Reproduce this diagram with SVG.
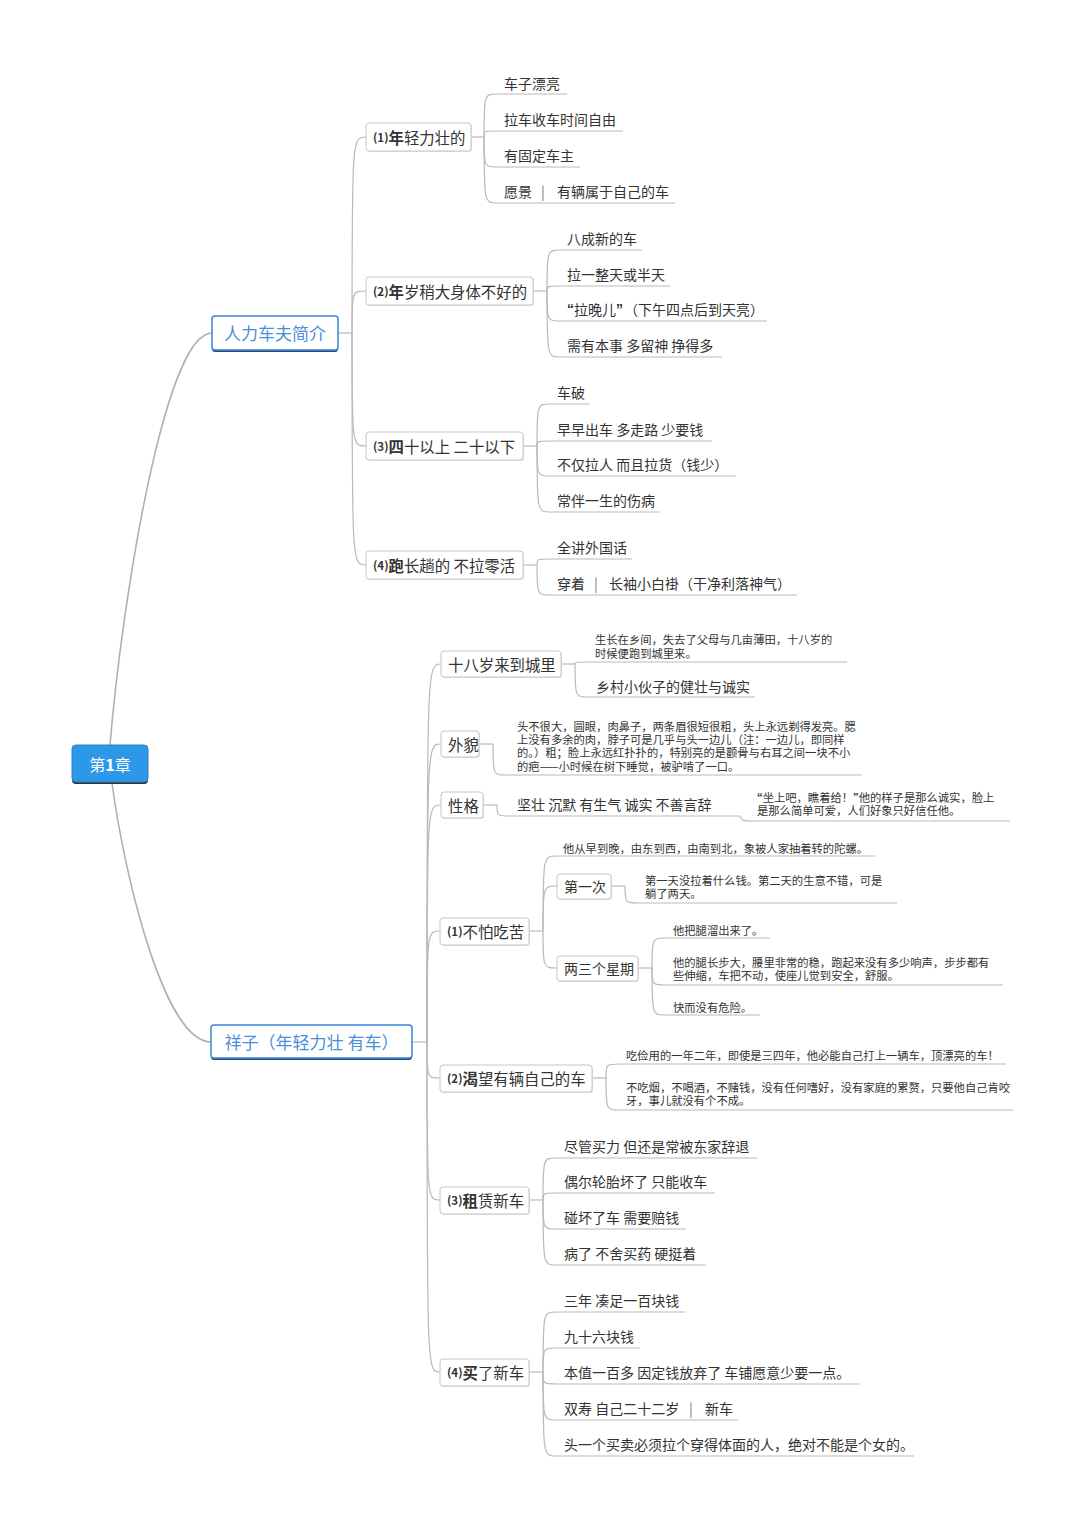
<svg xmlns="http://www.w3.org/2000/svg" width="1080" height="1520" viewBox="0 0 1080 1520">
<style>
text { font-family: "Noto Sans CJK SC", "Noto Sans", sans-serif; dominant-baseline: central; fill: #333; }
.ln { fill: none; stroke: #b9b9b9; stroke-width: 1.2; }
.mln { fill: none; stroke: #b0b0b0; stroke-width: 1.6; }
.box { fill: #fff; stroke: #c6c6c6; stroke-width: 1; }
.sh { fill: #e2e2e2; }
.mbox { fill: #fff; stroke: #3a84d8; stroke-width: 1.5; }
.msh { fill: #2c4a78; }
.t14 { font-size: 14px; }
.t15 { font-size: 15.4px; }
.ts { font-size: 11.3px; }
.num { font-size: 11.5px; font-weight: bold; }
.b { font-weight: bold; }
.sep { fill: #777; }
.q { font-family: "Liberation Sans", sans-serif; font-weight: bold; }
.mt { font-size: 17px; fill: #4a8fd9; text-anchor: middle; }
</style>

<g id="connectors">
  <path class="mln" d="M110 745 C122 600 165 333 212 333"/>
  <path class="mln" d="M112 783 C125 880 165 1042 211 1042"/>
  <path class="ln" d="M338 333 H352"/>
  <path class="ln" d="M352 333 C352 137 352 137 366 137"/>
  <path class="ln" d="M352 333 C352 291 352 291 366 291"/>
  <path class="ln" d="M352 333 C352 446 352 446 366 446"/>
  <path class="ln" d="M352 333 C352 565 352 565 366 565"/>
  <path class="ln" d="M471 137 H484"/>
  <path class="ln" d="M484 137 C484 94 484 94 498 94 H567"/>
  <path class="ln" d="M484 137 C484 131 484 131 498 131 H623"/>
  <path class="ln" d="M484 137 C484 167 484 167 498 167 H580"/>
  <path class="ln" d="M484 137 C484 203 484 203 498 203 H675"/>
  <path class="ln" d="M533 291 H547"/>
  <path class="ln" d="M547 291 C547 250 547 250 561 250 H642"/>
  <path class="ln" d="M547 291 C547 286 547 286 561 286 H670"/>
  <path class="ln" d="M547 291 C547 321 547 321 561 321 H767"/>
  <path class="ln" d="M547 291 C547 357 547 357 561 357 H722"/>
  <path class="ln" d="M523 446 H537"/>
  <path class="ln" d="M537 446 C537 404 537 404 551 404 H590"/>
  <path class="ln" d="M537 446 C537 441 537 441 551 441 H712"/>
  <path class="ln" d="M537 446 C537 476 537 476 551 476 H736"/>
  <path class="ln" d="M537 446 C537 512 537 512 551 512 H660"/>
  <path class="ln" d="M523 565 H537"/>
  <path class="ln" d="M537 565 C537 559 537 559 551 559 H632"/>
  <path class="ln" d="M537 565 C537 595 537 595 551 595 H797"/>

  <path class="ln" d="M412 1042 H427"/>
  <path class="ln" d="M427 1042 C427 664 427 664 441 664"/>
  <path class="ln" d="M427 1042 C427 744 427 744 441 744"/>
  <path class="ln" d="M427 1042 C427 805 427 805 441 805"/>
  <path class="ln" d="M427 1042 C427 931 427 931 440 931"/>
  <path class="ln" d="M427 1042 C427 1078 427 1078 440 1078"/>
  <path class="ln" d="M427 1042 C427 1200 427 1200 440 1200"/>
  <path class="ln" d="M427 1042 C427 1372 427 1372 440 1372"/>
  <path class="ln" d="M561 664 H575"/>
  <path class="ln" d="M575 664 C575 662 575 662 589 662 H847"/>
  <path class="ln" d="M575 664 C575 697 575 697 589 697 H755"/>
  <path class="ln" d="M479 744 H493"/>
  <path class="ln" d="M493 744 C493 775 493 775 507 775 H862"/>
  <path class="ln" d="M483 805 H497"/>
  <path class="ln" d="M497 805 C497 816 497 816 511 816 H740"/>
  <path class="ln" d="M740 816 C742 821 742 821 754 821 H1010"/>
  <path class="ln" d="M529 931 H543"/>
  <path class="ln" d="M543 931 C543 856 543 856 557 856 H875"/>
  <path class="ln" d="M543 931 C543 886 543 886 557 886"/>
  <path class="ln" d="M543 931 C543 968 543 968 557 968"/>
  <path class="ln" d="M611 886 H625"/>
  <path class="ln" d="M625 886 C625 903 625 903 639 903 H897"/>
  <path class="ln" d="M638 968 H652"/>
  <path class="ln" d="M652 968 C652 938 652 938 666 938 H770"/>
  <path class="ln" d="M652 968 C652 985 652 985 666 985 H1003"/>
  <path class="ln" d="M652 968 C652 1015 652 1015 666 1015 H760"/>
  <path class="ln" d="M592 1078 H606"/>
  <path class="ln" d="M606 1078 C606 1064 606 1064 620 1064 H1006"/>
  <path class="ln" d="M606 1078 C606 1110 606 1110 620 1110 H1013"/>
  <path class="ln" d="M529 1200 H543"/>
  <path class="ln" d="M543 1200 C543 1158 543 1158 557 1158 H757"/>
  <path class="ln" d="M543 1200 C543 1193 543 1193 557 1193 H715"/>
  <path class="ln" d="M543 1200 C543 1229 543 1229 557 1229 H686"/>
  <path class="ln" d="M543 1200 C543 1265 543 1265 557 1265 H706"/>
  <path class="ln" d="M529 1372 H543"/>
  <path class="ln" d="M543 1372 C543 1312 543 1312 557 1312 H685"/>
  <path class="ln" d="M543 1372 C543 1348 543 1348 557 1348 H640"/>
  <path class="ln" d="M543 1372 C543 1384 543 1384 557 1384 H860"/>
  <path class="ln" d="M543 1372 C543 1420 543 1420 557 1420 H738"/>
  <path class="ln" d="M543 1372 C543 1456 543 1456 557 1456 H914"/>
</g>

<g id="root">
  <rect x="72" y="747" width="76" height="37" rx="4" fill="#333"/>
  <rect x="72" y="745" width="76" height="37" rx="4" fill="#2d97e8" stroke="#2283d0" stroke-width="1"/>
  <text x="110" y="763.5" font-size="16" text-anchor="middle" style="fill:#fff">第<tspan class="b">1</tspan>章</text>
</g>

<g id="topic-rlcf">
  <rect class="msh" x="212" y="318" width="126" height="34" rx="3"/>
  <rect class="mbox" x="212" y="316" width="126" height="34" rx="3"/>
  <text class="mt" x="275" y="332.5">人力车夫简介</text>
</g>

<g id="topic-xz">
  <rect class="msh" x="211" y="1027" width="201" height="33" rx="3"/>
  <rect class="mbox" x="211" y="1025" width="201" height="33" rx="3"/>
  <text class="mt" x="311.5" y="1041.5">祥子（年轻力壮 有车）</text>
</g>

<g id="n1">
  <rect class="sh" x="367" y="124" width="105" height="28" rx="3"/>
  <rect class="box" x="366" y="123" width="105" height="28" rx="3"/>
  <text x="373" y="136.5"><tspan class="num">(1)</tspan><tspan class="t15 b">年</tspan><tspan class="t15">轻力壮的</tspan></text>
</g>
<g id="n1-leaves">
  <text class="t14" x="504" y="82.5">车子漂亮</text>
  <text class="t14" x="504" y="119">拉车收车时间自由</text>
  <text class="t14" x="504" y="155">有固定车主</text>
  <text class="t14" x="504" y="191">愿景</text>
  <text class="t14 sep" x="541" y="191">|</text>
  <text class="t14" x="557" y="191">有辆属于自己的车</text>
</g>

<g id="n2">
  <rect class="sh" x="367" y="278" width="167" height="28" rx="3"/>
  <rect class="box" x="366" y="277" width="167" height="28" rx="3"/>
  <text x="373" y="290.5"><tspan class="num">(2)</tspan><tspan class="t15 b">年</tspan><tspan class="t15">岁稍大身体不好的</tspan></text>
</g>
<g id="n2-leaves">
  <text class="t14" x="567" y="238">八成新的车</text>
  <text class="t14" x="567" y="274">拉一整天或半天</text>
  <text class="t14" x="567" y="309"><tspan class="q">“</tspan>拉晚儿<tspan class="q">”</tspan></text>
  <text class="t14" x="624" y="309">（下午四点后到天亮）</text>
  <text class="t14" x="567" y="345">需有本事 多留神 挣得多</text>
</g>

<g id="n3">
  <rect class="sh" x="367" y="433" width="157" height="28" rx="3"/>
  <rect class="box" x="366" y="432" width="157" height="28" rx="3"/>
  <text x="373" y="445.5"><tspan class="num">(3)</tspan><tspan class="t15 b">四</tspan><tspan class="t15">十以上 二十以下</tspan></text>
</g>
<g id="n3-leaves">
  <text class="t14" x="557" y="392">车破</text>
  <text class="t14" x="557" y="428.5">早早出车 多走路 少要钱</text>
  <text class="t14" x="557" y="464">不仅拉人 而且拉货（钱少）</text>
  <text class="t14" x="557" y="500">常伴一生的伤病</text>
</g>

<g id="n4">
  <rect class="sh" x="367" y="552" width="157" height="28" rx="3"/>
  <rect class="box" x="366" y="551" width="157" height="28" rx="3"/>
  <text x="373" y="564.5"><tspan class="num">(4)</tspan><tspan class="t15 b">跑</tspan><tspan class="t15">长趟的 不拉零活</tspan></text>
</g>
<g id="n4-leaves">
  <text class="t14" x="557" y="546.5">全讲外国话</text>
  <text class="t14" x="557" y="582.5">穿着</text>
  <text class="t14 sep" x="594" y="582.5">|</text>
  <text class="t14" x="609" y="582.5">长袖小白褂（干净利落神气）</text>
</g>

<g id="m1">
  <rect class="sh" x="442" y="652" width="120" height="26" rx="3"/>
  <rect class="box" x="441" y="651" width="120" height="26" rx="3"/>
  <text class="t15" x="448" y="663.5">十八岁来到城里</text>
</g>
<g id="m1-leaves">
  <text class="ts" x="595" y="639">生长在乡间，失去了父母与几亩薄田，十八岁的</text>
  <text class="ts" x="595" y="652.5">时候便跑到城里来。</text>
  <text class="t14" x="596" y="685.5">乡村小伙子的健壮与诚实</text>
</g>

<g id="m2">
  <rect class="sh" x="442" y="732" width="38" height="26" rx="3"/>
  <rect class="box" x="441" y="731" width="38" height="26" rx="3"/>
  <text class="t15" x="448" y="743.5">外貌</text>
</g>
<g id="m2-leaves">
  <text class="ts" x="517" y="725.5">头不很大，圆眼，肉鼻子，两条眉很短很粗，头上永远剃得发亮。腮</text>
  <text class="ts" x="517" y="738.8">上没有多余的肉，脖子可是几乎与头一边儿（注：一边儿，即同样</text>
  <text class="ts" x="517" y="752.1">的。）粗；脸上永远红扑扑的，特别亮的是颧骨与右耳之间一块不小</text>
  <text class="ts" x="517" y="765.5">的疤——小时候在树下睡觉，被驴啃了一口。</text>
</g>

<g id="m3">
  <rect class="sh" x="442" y="793" width="42" height="26" rx="3"/>
  <rect class="box" x="441" y="792" width="42" height="26" rx="3"/>
  <text class="t15" x="448" y="804.5">性格</text>
</g>
<g id="m3-leaves">
  <text class="t14" x="517" y="803.5">坚壮 沉默 有生气 诚实 不善言辞</text>
  <text class="ts" x="757" y="796.5"><tspan class="q">“</tspan>坐上吧，瞧着给！<tspan class="q">”</tspan>他的样子是那么诚实，脸上</text>
  <text class="ts" x="757" y="809.8">是那么简单可爱，人们好象只好信任他。</text>
</g>

<g id="m4">
  <rect class="sh" x="441" y="919" width="89" height="27" rx="3"/>
  <rect class="box" x="440" y="918" width="89" height="27" rx="3"/>
  <text x="447" y="930.5"><tspan class="num">(1)</tspan><tspan class="t15">不怕吃苦</tspan></text>
</g>
<g id="m4-leaves">
  <text class="ts" x="563" y="847.5">他从早到晚，由东到西，由南到北，象被人家抽着转的陀螺。</text>
</g>
<g id="m4a">
  <rect class="sh" x="558" y="875" width="54" height="25" rx="3"/>
  <rect class="box" x="557" y="874" width="54" height="25" rx="3"/>
  <text class="t14" x="564" y="886">第一次</text>
</g>
<g id="m4a-leaves">
  <text class="ts" x="645" y="879.5">第一天没拉着什么钱。第二天的生意不错，可是</text>
  <text class="ts" x="645" y="892.8">躺了两天。</text>
</g>
<g id="m4b">
  <rect class="sh" x="558" y="957" width="81" height="25" rx="3"/>
  <rect class="box" x="557" y="956" width="81" height="25" rx="3"/>
  <text class="t14" x="564" y="968">两三个星期</text>
</g>
<g id="m4b-leaves">
  <text class="ts" x="673" y="929.5">他把腿溜出来了。</text>
  <text class="ts" x="673" y="961.5">他的腿长步大，腰里非常的稳，跑起来没有多少响声，步步都有</text>
  <text class="ts" x="673" y="974.8">些伸缩，车把不动，使座儿觉到安全，舒服。</text>
  <text class="ts" x="673" y="1006.5">快而没有危险。</text>
</g>

<g id="m5">
  <rect class="sh" x="441" y="1066" width="152" height="27" rx="3"/>
  <rect class="box" x="440" y="1065" width="152" height="27" rx="3"/>
  <text x="447" y="1077.5"><tspan class="num">(2)</tspan><tspan class="t15 b">渴</tspan><tspan class="t15">望有辆自己的车</tspan></text>
</g>
<g id="m5-leaves">
  <text class="ts" x="626" y="1054.5">吃俭用的一年二年，即使是三四年，他必能自己打上一辆车，顶漂亮的车！</text>
  <text class="ts" x="626" y="1086.5">不吃烟，不喝酒，不赌钱，没有任何嗜好，没有家庭的累赘，只要他自己肯咬</text>
  <text class="ts" x="626" y="1099.8">牙，事儿就没有个不成。</text>
</g>

<g id="m6">
  <rect class="sh" x="441" y="1188" width="89" height="27" rx="3"/>
  <rect class="box" x="440" y="1187" width="89" height="27" rx="3"/>
  <text x="447" y="1199.5"><tspan class="num">(3)</tspan><tspan class="t15 b">租</tspan><tspan class="t15">赁新车</tspan></text>
</g>
<g id="m6-leaves">
  <text class="t14" x="564" y="1145.5">尽管买力 但还是常被东家辞退</text>
  <text class="t14" x="564" y="1180.5">偶尔轮胎坏了 只能收车</text>
  <text class="t14" x="564" y="1216.5">碰坏了车 需要赔钱</text>
  <text class="t14" x="564" y="1252.5">病了 不舍买药 硬挺着</text>
</g>

<g id="m7">
  <rect class="sh" x="441" y="1360" width="89" height="27" rx="3"/>
  <rect class="box" x="440" y="1359" width="89" height="27" rx="3"/>
  <text x="447" y="1371.5"><tspan class="num">(4)</tspan><tspan class="t15 b">买</tspan><tspan class="t15">了新车</tspan></text>
</g>
<g id="m7-leaves">
  <text class="t14" x="564" y="1299.5">三年 凑足一百块钱</text>
  <text class="t14" x="564" y="1335.5">九十六块钱</text>
  <text class="t14" x="564" y="1371.5">本值一百多 因定钱放弃了 车铺愿意少要一点。</text>
  <text class="t14" x="564" y="1407.5">双寿 自己二十二岁</text>
  <text class="t14 sep" x="689" y="1407.5">|</text>
  <text class="t14" x="705" y="1407.5">新车</text>
  <text class="t14" x="564" y="1443.5">头一个买卖必须拉个穿得体面的人，绝对不能是个女的。</text>
</g>
</svg>
